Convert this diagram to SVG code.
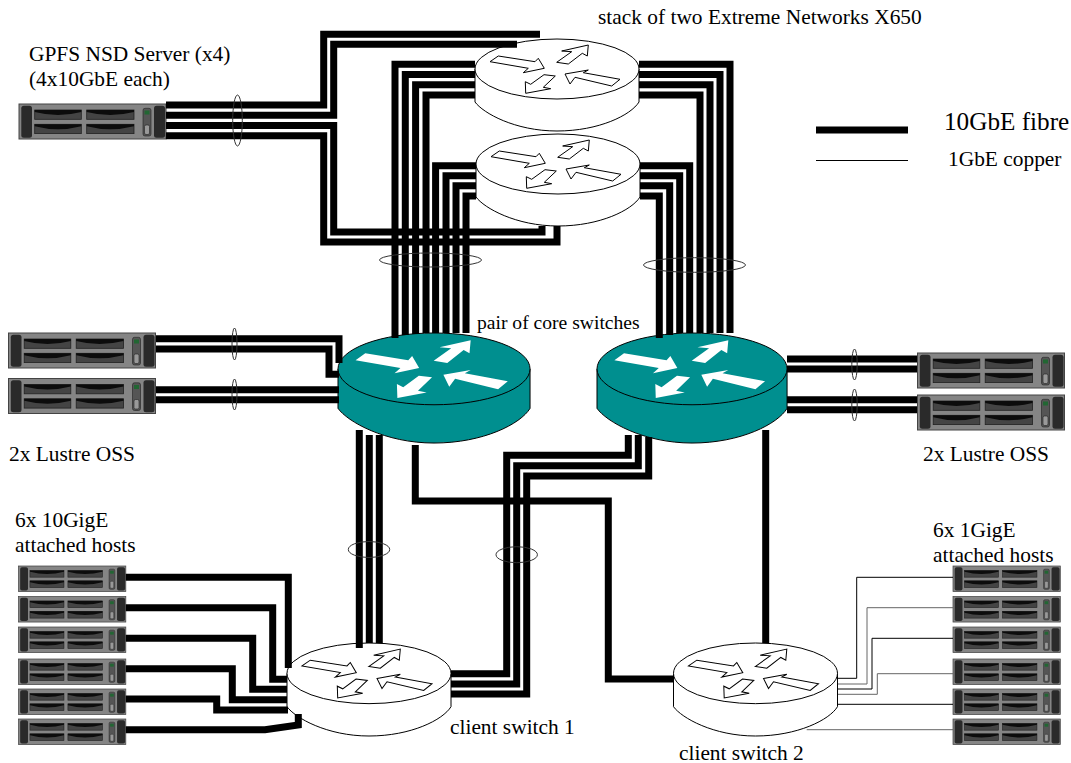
<svg xmlns="http://www.w3.org/2000/svg" xmlns:xlink="http://www.w3.org/1999/xlink" width="1071" height="763" viewBox="0 0 1071 763">
<style>
text{font-family:"Liberation Serif","Times New Roman",serif;fill:#000}
.t21{font-size:21.400px}.t19{font-size:19.600px}
.fibre{fill:none;stroke:#000;stroke-width:7;stroke-linejoin:miter}
.copper{fill:none;stroke:#000;stroke-width:1}
.copperg{fill:none;stroke:#666;stroke-width:1}
.ring{fill:none;stroke:#333;stroke-width:1}
.rb{stroke:#000;stroke-width:1;vector-effect:non-scaling-stroke}
.white{fill:#fff}.teal{fill:#008f8f}
.awhite{fill:#fff;stroke:#000;stroke-width:1;vector-effect:non-scaling-stroke}
.afill{fill:#fff}
</style>
<defs>
<g id="arrows">
<polygon points="15,22.7 23.3,17 60,22.7 63.3,19.3 69.3,29.3 48.3,33.7 53.3,29.3"/>
<polygon points="81.7,23.3 96.7,12.7 86.7,12 113.3,6 112.3,17 107.3,14.3 93.3,25"/>
<polygon points="69,35.7 80.3,37 68.3,48.3 75.7,49.7 50.7,54.3 50.3,42.7 55.7,45.3"/>
<polygon points="90,35 113.3,31 108.3,33.7 145,40.3 136.7,47 100,38.3 95,45"/>
</g>
<g id="routerW">
<path class="rb white" d="M0,30V63C8,74 40,92 82,92C124,92 156,76 164,63V30"/>
<ellipse class="rb white" cx="82" cy="30" rx="82" ry="30"/>
<use xlink:href="#arrows" class="awhite"/>
</g>
<g id="routerT">
<path class="rb teal" d="M0,30V63C8,74 40,92 82,92C124,92 156,76 164,63V30"/>
<ellipse class="rb teal" cx="82" cy="30" rx="82" ry="30"/>
<use xlink:href="#arrows" class="afill"/>
</g>
<g id="server">
<rect x="0" y="0" width="147" height="35" fill="#858585" stroke="#444"/>
<rect x="2.3" y="1.7" width="10.7" height="32" rx="2.5" fill="#2a2a2a"/>
<rect x="135" y="1.7" width="11" height="32" rx="2.5" fill="#2a2a2a"/>
<g fill="#444" stroke="#222" stroke-width="0.8">
<rect x="15.7" y="6" width="46.6" height="9.3"/>
<rect x="67.7" y="6" width="47.3" height="9.3"/>
<rect x="15.7" y="20.3" width="46.6" height="9.3"/>
<rect x="67.7" y="20.3" width="47.3" height="9.3"/>
</g>
<g fill="#0c0c0c">
<path d="M15.7,6H62.3V8Q39,14 15.7,8Z"/>
<path d="M67.7,6H115V8Q91,14 67.7,8Z"/>
<path d="M15.7,20.3H62.3V22.3Q39,28.3 15.7,22.3Z"/>
<path d="M67.7,20.3H115V22.3Q91,28.3 67.7,22.3Z"/>
</g>
<rect x="124" y="4.3" width="8" height="27.7" rx="2" fill="#555" stroke="#222" stroke-width="0.6"/>
<rect x="125.5" y="21" width="5" height="9.5" rx="1.5" fill="#999" stroke="#222" stroke-width="0.6"/>
<rect x="125.5" y="6.5" width="5" height="4" fill="#263"/>
</g>
</defs>

<g id="stack-switch-1"><use xlink:href="#routerW" transform="translate(475,39)"/></g>
<g id="stack-switch-2"><use xlink:href="#routerW" transform="translate(476,134)"/></g>
<g id="core-switch-1"><use xlink:href="#routerT" transform="translate(338,333) scale(1.171,1.196)"/></g>
<g id="core-switch-2"><use xlink:href="#routerT" transform="translate(597,333) scale(1.159,1.196)"/></g>
<g id="client-switch-1"><use xlink:href="#routerW" transform="translate(287,643) scale(1,1.011)"/></g>
<g id="client-switch-2"><use xlink:href="#routerW" transform="translate(673.500,643) scale(1,1.011)"/></g>

<g id="gpfs-server"><use xlink:href="#server" transform="translate(19,104)"/></g>
<g id="oss-left-1"><use xlink:href="#server" transform="translate(8.500,333)"/></g>
<g id="oss-left-2"><use xlink:href="#server" transform="translate(8.500,378.500)"/></g>
<g id="oss-right-1"><use xlink:href="#server" transform="translate(917.500,353)"/></g>
<g id="oss-right-2"><use xlink:href="#server" transform="translate(917.500,395)"/></g>

<g id="host-10g-1"><use xlink:href="#server" transform="translate(18.500,566) scale(0.73,0.73)"/></g>
<g id="host-10g-2"><use xlink:href="#server" transform="translate(18.500,596.500) scale(0.73,0.73)"/></g>
<g id="host-10g-3"><use xlink:href="#server" transform="translate(18.500,627) scale(0.73,0.73)"/></g>
<g id="host-10g-4"><use xlink:href="#server" transform="translate(18.500,659) scale(0.73,0.73)"/></g>
<g id="host-10g-5"><use xlink:href="#server" transform="translate(18.500,689) scale(0.73,0.73)"/></g>
<g id="host-10g-6"><use xlink:href="#server" transform="translate(18.500,719) scale(0.73,0.73)"/></g>

<g id="host-1g-1"><use xlink:href="#server" transform="translate(953,566) scale(0.73,0.73)"/></g>
<g id="host-1g-2"><use xlink:href="#server" transform="translate(953,596.500) scale(0.73,0.73)"/></g>
<g id="host-1g-3"><use xlink:href="#server" transform="translate(953,627) scale(0.73,0.73)"/></g>
<g id="host-1g-4"><use xlink:href="#server" transform="translate(953,659) scale(0.73,0.73)"/></g>
<g id="host-1g-5"><use xlink:href="#server" transform="translate(953,689) scale(0.73,0.73)"/></g>
<g id="host-1g-6"><use xlink:href="#server" transform="translate(953,719) scale(0.73,0.73)"/></g>

<g id="connectors">
<path class="fibre" d="M166,105H323.700V34.300H540"/>
<path class="fibre" d="M166,115.300H333.700V44.300H517"/>
<path class="fibre" d="M166,125.500H333.700V232H542V226"/>
<path class="fibre" d="M166,135.700H323.700V242H557V226"/>

<path class="fibre" d="M475,64.300H395V338"/>
<path class="fibre" d="M475,74.600H405.300V335"/>
<path class="fibre" d="M475,84.700H415.600V334"/>
<path class="fibre" d="M475,95H426V333"/>
<path class="fibre" d="M476,165.700H435.600V333"/>
<path class="fibre" d="M476,175.700H446V333"/>
<path class="fibre" d="M476,185.700H456V333"/>
<path class="fibre" d="M476,196H466V333"/>

<path class="fibre" d="M639,64.300H730V333"/>
<path class="fibre" d="M639,74.600H720V333"/>
<path class="fibre" d="M639,84.700H710V333"/>
<path class="fibre" d="M639,95H700V333"/>
<path class="fibre" d="M640,165.700H689.700V333"/>
<path class="fibre" d="M640,175.700H679.700V333"/>
<path class="fibre" d="M640,185.700H669.700V335"/>
<path class="fibre" d="M640,196H659.300V338"/>

<path class="fibre" d="M156,338.700H339V363"/>
<path class="fibre" d="M156,349H329V374.300H339"/>
<path class="fibre" d="M156,389.700H339"/>
<path class="fibre" d="M156,399.700H339"/>

<path class="fibre" d="M787,359H917"/>
<path class="fibre" d="M787,369H917"/>
<path class="fibre" d="M787,399.700H917"/>
<path class="fibre" d="M787,409.700H917"/>

<path class="fibre" d="M359.300,430V648"/>
<path class="fibre" d="M369.300,435V643"/>
<path class="fibre" d="M379.300,435V643"/>
<path class="fibre" d="M415.300,445V501H608.300V679H674"/>

<path class="fibre" d="M628.300,435V455.300H506.700V673.700H451"/>
<path class="fibre" d="M638.300,435V465.700H516.700V684H451"/>
<path class="fibre" d="M648.700,437V476H526.700V694H451"/>
<path class="fibre" d="M765.700,430V643"/>

<path class="fibre" d="M125.700,577.300H288.300V668"/>
<path class="fibre" d="M125.700,607.700H272.700V679.300H287"/>
<path class="fibre" d="M125.700,638.300H252.700V689.300H287"/>
<path class="fibre" d="M125.700,668.700H232.300V699.700H287"/>
<path class="fibre" d="M125.700,699H216.700V710H288"/>
<path class="fibre" d="M125.700,729.700H265L298.300,725V714"/>

<path class="copper" d="M838,678.300H856.700V577.300H953"/>
<path class="copperg" d="M838,684H867V607.700H953"/>
<path class="copper" d="M838,689H872V638.300H953"/>
<path class="copperg" d="M838,694.300H877.300V673.700H953"/>
<path class="copper" d="M838,704.300H953"/>
<path class="copperg" d="M806.700,729.700H953"/>

<ellipse class="ring" cx="237.500" cy="120.500" rx="4.800" ry="25.500"/>
<ellipse class="ring" cx="430.500" cy="260" rx="51" ry="7"/>
<ellipse class="ring" cx="694.500" cy="265" rx="51" ry="7.300"/>
<ellipse class="ring" cx="234.500" cy="344" rx="2.500" ry="16"/>
<ellipse class="ring" cx="234.500" cy="394.500" rx="2.500" ry="15.500"/>
<ellipse class="ring" cx="854.500" cy="364.500" rx="2.700" ry="15.500"/>
<ellipse class="ring" cx="854.500" cy="405" rx="2.700" ry="16"/>
<ellipse class="ring" cx="369" cy="549.500" rx="20.700" ry="8"/>
<ellipse class="ring" cx="516.700" cy="554.700" rx="20.700" ry="8"/>
</g>

<g id="legend">
<path class="fibre" d="M816,130H908"/>
<path class="copper" d="M816,160.500H908"/>
<text x="944" y="130" style="font-size:25.200px">10GbE fibre</text>
<text x="948" y="166" class="t21">1GbE copper</text>
</g>

<g id="labels">
<text x="598" y="24" class="t21">stack of two Extreme Networks X650</text>
<text x="29" y="61" class="t21">GPFS NSD Server (x4)</text>
<text x="29" y="86" class="t21">(4x10GbE each)</text>
<text x="477" y="329" class="t19">pair of core switches</text>
<text x="9" y="461" class="t21">2x Lustre OSS</text>
<text x="923" y="461" class="t21">2x Lustre OSS</text>
<text x="15" y="527" class="t21">6x 10GigE</text>
<text x="15" y="552" class="t21">attached hosts</text>
<text x="933" y="537" class="t21">6x 1GigE</text>
<text x="933" y="562" class="t21">attached hosts</text>
<text x="450" y="734" class="t21">client switch 1</text>
<text x="679" y="760" class="t21">client switch 2</text>
</g>
</svg>
